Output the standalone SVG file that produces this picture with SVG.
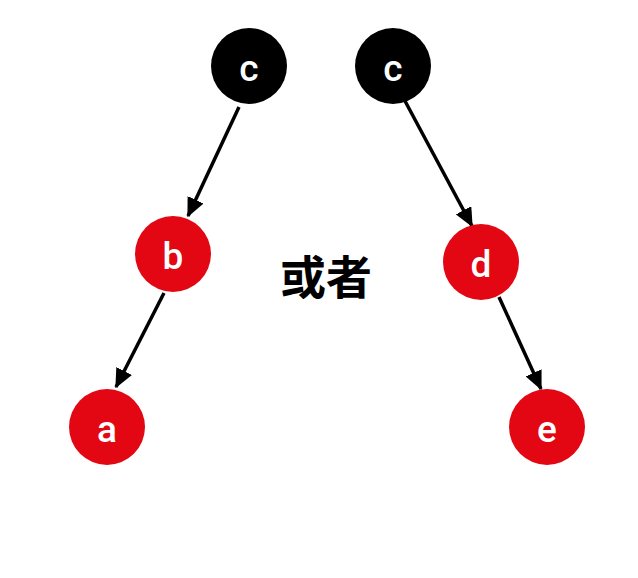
<svg xmlns="http://www.w3.org/2000/svg" width="638" height="578" viewBox="0 0 638 578">
<style>
.blk{fill:#000}
.red{fill:#e30613}
.lbl{fill:#fff;font-family:Roboto,"Liberation Sans",Arial,sans-serif;font-size:37px;font-weight:500;text-anchor:middle;dominant-baseline:central}
.edge{stroke:#000;stroke-width:3.5;fill:none;marker-end:url(#ah)}
.txt{font-family:"Noto Sans CJK SC","Noto Sans CJK TC",sans-serif;font-weight:bold;font-size:46px;text-anchor:middle;dominant-baseline:central;fill:#000}
</style>
<defs>
<marker id="ah" markerWidth="5.5" markerHeight="5" refX="5.1" refY="2.5" orient="auto" markerUnits="strokeWidth">
<path d="M0,0 L5.5,2.5 L0,5 Z" fill="#000"/>
</marker>
</defs>
<rect width="638" height="578" fill="#fff"/>
<g id="connectors">
<line class="edge" x1="239" y1="107" x2="188" y2="216"/>
<line class="edge" x1="405" y1="101" x2="472" y2="226"/>
<line class="edge" x1="164" y1="293" x2="116" y2="387"/>
<line class="edge" x1="499" y1="297" x2="541" y2="389"/>
</g>
<g id="c1"><circle class="blk" cx="249" cy="66" r="38"/><text class="lbl" x="249" y="68">c</text></g>
<g id="c2"><circle class="blk" cx="393" cy="66" r="38"/><text class="lbl" x="393" y="68">c</text></g>
<g id="b"><circle class="red" cx="173" cy="254" r="38"/><text class="lbl" x="173" y="256">b</text></g>
<g id="d"><circle class="red" cx="481" cy="262" r="38"/><text class="lbl" x="481" y="264">d</text></g>
<g id="a"><circle class="red" cx="107" cy="427" r="38"/><text class="lbl" x="107" y="429">a</text></g>
<g id="e"><circle class="red" cx="547" cy="427" r="38"/><text class="lbl" x="547" y="429">e</text></g>
<g id="or"><text class="txt" x="326" y="274">或者</text></g>
</svg>
